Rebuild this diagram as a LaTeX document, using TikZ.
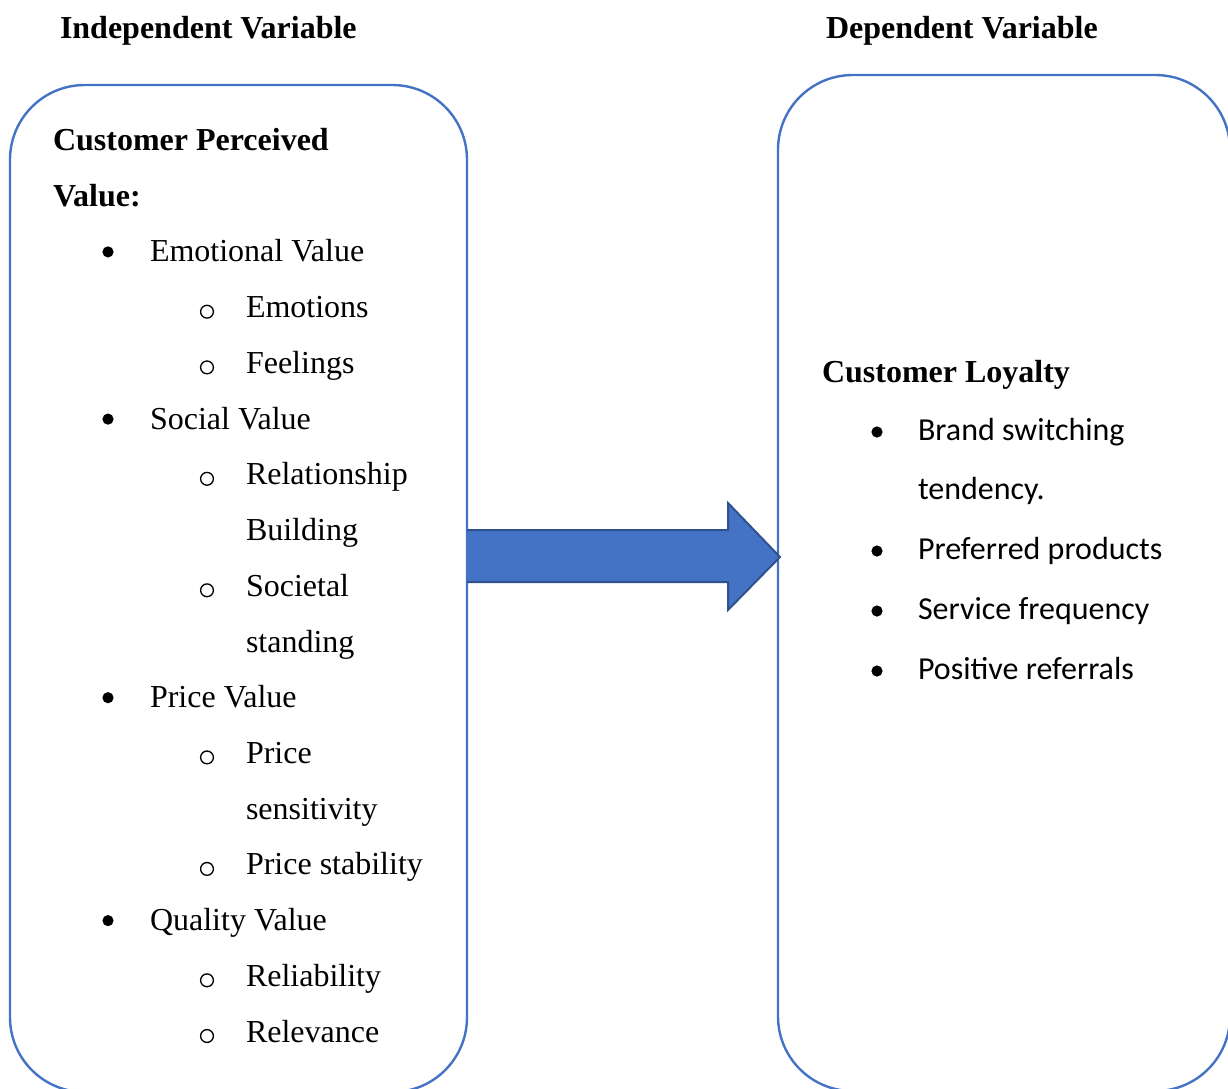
\documentclass[tikz,border=0pt]{standalone}
\usepackage{fontspec}
\setmainfont{Liberation Serif}
\newfontfamily\calib{Carlito}
\definecolor{frameblue}{HTML}{4472C4}
\definecolor{arrowedge}{HTML}{2F528F}
\begin{document}
\begin{tikzpicture}[x=0.375pt,y=-0.375pt,
  every node/.style={inner sep=0pt,outer sep=0pt,anchor=base west,
    font=\fontsize{12}{14}\selectfont},
  heading/.style={font=\fontsize{12}{14}\selectfont\bfseries},
  frame/.style={draw=frameblue,line width=0.9pt,rounded corners=28pt},
  dotbullet/.style={circle,fill=black,minimum size=4.2pt,anchor=center},
  ringbullet/.style={circle,draw=black,line width=0.5pt,minimum size=4.8pt,anchor=center},
  rdot/.style={circle,fill=black,minimum size=4.2pt,anchor=center},
  calitem/.style={font=\fontsize{12}{14}\selectfont\calib},
  bigarrow/.style={fill=frameblue,draw=arrowedge,line width=0.75pt,line join=miter}]
\useasboundingbox (0,0) rectangle (1228,1088);

% the two rounded frames, running past the lower edge
\begin{scope}
\clip (0,0) rectangle (1228,1088);
\draw[frame] (10,85) rectangle (467,1092);
\draw[frame] (778,75) rectangle (1230,1091);
\end{scope}

% column headings
\node[heading] (hind) at (60,38) {Independent Variable};
\node[heading] (hdep) at (826,38) {Dependent Variable};

% independent variable list
\node[heading] (cpv1) at (53,150.5) {Customer Perceived};
\node[heading] (cpv2) at (53,206.2) {Value:};

\node[dotbullet] (b1) at (108,251.9) {};
\node (t1) at (150,261.9) {Emotional Value};
\node[ringbullet] (s11) at (207,311.7) {};
\node (u11) at (246,317.7) {Emotions};
\node[ringbullet] (s12) at (207,367.4) {};
\node (u12) at (246,373.4) {Feelings};

\node[dotbullet] (b2) at (108,419.1) {};
\node (t2) at (150,429.1) {Social Value};
\node[ringbullet] (s21) at (207,478.8) {};
\node (u21) at (246,484.8) {Relationship};
\node (u21b) at (246,540.5) {Building};
\node[ringbullet] (s22) at (207,590.3) {};
\node (u22) at (246,596.3) {Societal};
\node (u22b) at (246,652) {standing};

\node[dotbullet] (b3) at (108,697.7) {};
\node (t3) at (150,707.7) {Price Value};
\node[ringbullet] (s31) at (207,757.4) {};
\node (u31) at (246,763.4) {Price};
\node (u31b) at (246,819.1) {sensitivity};
\node[ringbullet] (s32) at (207,868.9) {};
\node (u32) at (246,874.9) {Price stability};

\node[dotbullet] (b4) at (108,920.6) {};
\node (t4) at (150,930.6) {Quality Value};
\node[ringbullet] (s41) at (207,980.3) {};
\node (u41) at (246,986.3) {Reliability};
\node[ringbullet] (s42) at (207,1036) {};
\node (u42) at (246,1042) {Relevance};

% dependent variable list
\node[heading] (cl) at (822,382.5) {Customer Loyalty};
\node[rdot] (r1) at (877,432) {};
\node[calitem] (v1) at (918,440) {Brand switching};
\node[calitem] (v1b) at (918,499.5) {tendency.};
\node[rdot] (r2) at (877,551) {};
\node[calitem] (v2) at (918,559) {Preferred products};
\node[rdot] (r3) at (877,611) {};
\node[calitem] (v3) at (918,619) {Service frequency};
\node[rdot] (r4) at (877,671) {};
\node[calitem] (v4) at (918,679) {Positive referrals};

% block arrow from the left frame to the right frame
\coordinate (astart) at (467,556);
\coordinate (atip) at (780,557);
\draw[bigarrow] (astart |- 0,530) -- (728,530) -- (728,503) -- (atip)
  -- (728,610) -- (728,582) -- (astart |- 0,582);
\end{tikzpicture}
\end{document}
